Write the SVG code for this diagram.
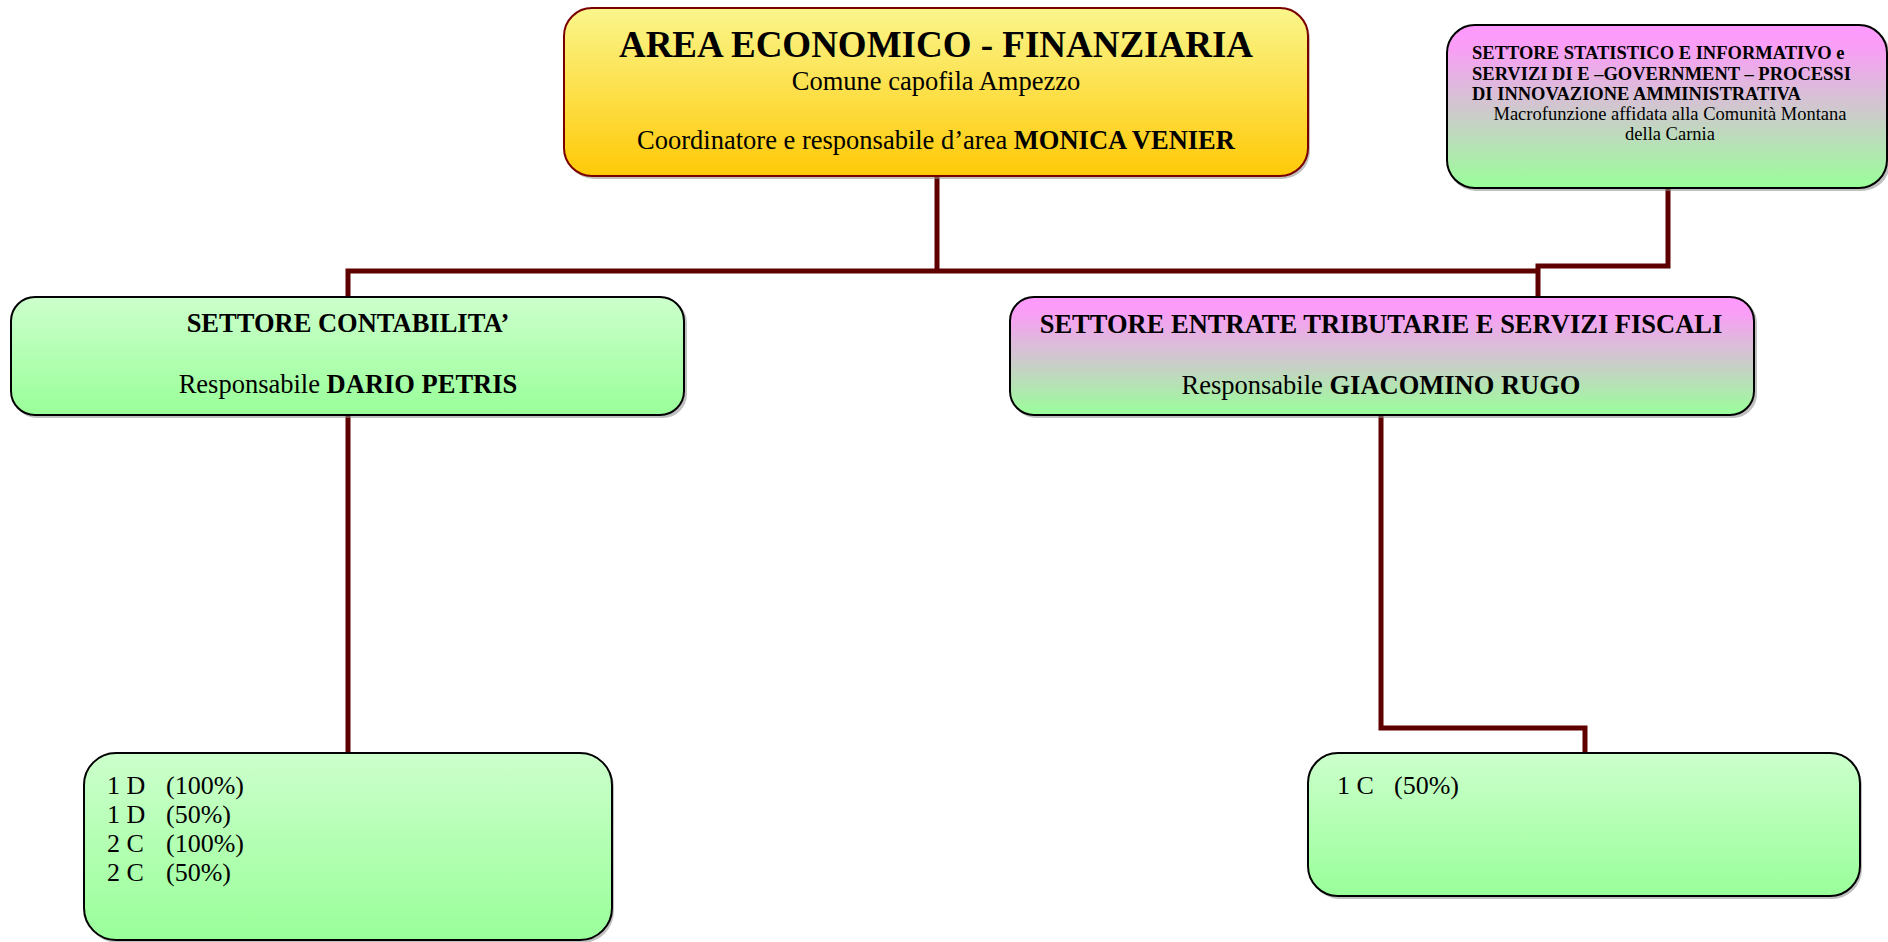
<svg xmlns="http://www.w3.org/2000/svg" width="1888" height="942" viewBox="0 0 1888 942">
  <defs>
    <linearGradient id="gYellow" x1="0" y1="0" x2="0" y2="1">
      <stop offset="0" stop-color="#FAF68C"/>
      <stop offset="1" stop-color="#FFC907"/>
    </linearGradient>
    <linearGradient id="gGreen" x1="0" y1="0" x2="0" y2="1">
      <stop offset="0" stop-color="#CCFFCC"/>
      <stop offset="1" stop-color="#99FF99"/>
    </linearGradient>
    <linearGradient id="gPink" x1="0" y1="0" x2="0" y2="1">
      <stop offset="0" stop-color="#FF99FF"/>
      <stop offset="0.15" stop-color="#F89FF5"/>
      <stop offset="1" stop-color="#99FF99"/>
    </linearGradient>
  </defs>
  <style>
    text { font-family: "Liberation Serif", "Times New Roman", serif; fill: #000; }
    .shadow { fill: #8c8c8c; opacity: 0.55; }
    .box { stroke: #000; stroke-width: 2; }
    .head { stroke: #7A0000; stroke-width: 2; fill: url(#gYellow); }
    .green { fill: url(#gGreen); }
    .pink { fill: url(#gPink); }
    .b { font-weight: bold; }
    .t37 { font-size: 37px; }
    .t26 { font-size: 26.5px; }
    .t18 { font-size: 18.5px; }
    .t26r { font-size: 26px; }
    .link { fill: none; stroke: #5E0000; stroke-width: 5; stroke-linejoin: miter; stroke-linecap: butt; }
  </style>

  <rect width="1888" height="942" fill="#fff"/>

  <!-- connectors -->
  <g id="connectors">
    <polyline class="link" points="937,176 937,271"/>
    <polyline class="link" points="348,296 348,271 1538,271"/>
    <polyline class="link" points="1668,188 1668,266 1538,266 1538,296"/>
    <polyline class="link" points="348,415 348,752"/>
    <polyline class="link" points="1381,415 1381,728 1585,728 1585,752"/>
  </g>

  <!-- area head -->
  <g id="area">
    <rect class="shadow" x="566" y="11" width="744" height="168" rx="28"/>
    <rect class="head" x="564" y="8" width="744" height="168" rx="28"/>
    <text class="b t37" x="936" y="57" text-anchor="middle">AREA ECONOMICO - FINANZIARIA</text>
    <text class="t26" x="936" y="90" text-anchor="middle">Comune capofila Ampezzo</text>
    <text class="t26" x="936" y="149" text-anchor="middle">Coordinatore e responsabile d’area <tspan class="b">MONICA VENIER</tspan></text>
  </g>

  <!-- statistics / e-government sector -->
  <g id="statistico">
    <rect class="shadow" x="1448" y="27" width="442" height="164" rx="28"/>
    <rect class="box pink" x="1447" y="25" width="440" height="163" rx="28"/>
    <text class="b t18" x="1472" y="58.5">SETTORE STATISTICO E INFORMATIVO e</text>
    <text class="b t18" x="1472" y="79.5">SERVIZI DI E –GOVERNMENT – PROCESSI</text>
    <text class="b t18" x="1472" y="100">DI INNOVAZIONE AMMINISTRATIVA</text>
    <text class="t18" x="1670" y="120" text-anchor="middle">Macrofunzione affidata alla Comunità Montana</text>
    <text class="t18" x="1670" y="140" text-anchor="middle">della Carnia</text>
  </g>

  <!-- accounting sector -->
  <g id="contabilita">
    <rect class="shadow" x="13" y="299" width="674" height="119" rx="24"/>
    <rect class="box green" x="11" y="297" width="673" height="118" rx="24"/>
    <text class="b t26" x="348" y="332" text-anchor="middle">SETTORE CONTABILITA’</text>
    <text class="t26" x="348" y="393" text-anchor="middle">Responsabile <tspan class="b">DARIO PETRIS</tspan></text>
  </g>

  <!-- tax revenue sector -->
  <g id="entrate">
    <rect class="shadow" x="1012" y="299" width="745" height="119" rx="24"/>
    <rect class="box pink" x="1010" y="297" width="744" height="118" rx="24"/>
    <text class="b t26" x="1381" y="333" text-anchor="middle">SETTORE ENTRATE TRIBUTARIE E SERVIZI FISCALI</text>
    <text class="t26" x="1381" y="394" text-anchor="middle">Responsabile <tspan class="b">GIACOMINO RUGO</tspan></text>
  </g>

  <!-- accounting staff -->
  <g id="staff-contabilita">
    <rect class="shadow" x="86" y="755" width="528" height="188" rx="32"/>
    <rect class="box green" x="84" y="753" width="528" height="187" rx="32"/>
    <text class="t26r" x="107" y="794">1 D</text><text class="t26r" x="166" y="794">(100%)</text>
    <text class="t26r" x="107" y="823">1 D</text><text class="t26r" x="166" y="823">(50%)</text>
    <text class="t26r" x="107" y="852">2 C</text><text class="t26r" x="166" y="852">(100%)</text>
    <text class="t26r" x="107" y="881">2 C</text><text class="t26r" x="166" y="881">(50%)</text>
  </g>

  <!-- tax revenue staff -->
  <g id="staff-entrate">
    <rect class="shadow" x="1310" y="755" width="552" height="144" rx="30"/>
    <rect class="box green" x="1308" y="753" width="552" height="143" rx="30"/>
    <text class="t26r" x="1337" y="794">1 C</text><text class="t26r" x="1394" y="794">(50%)</text>
  </g>
</svg>
